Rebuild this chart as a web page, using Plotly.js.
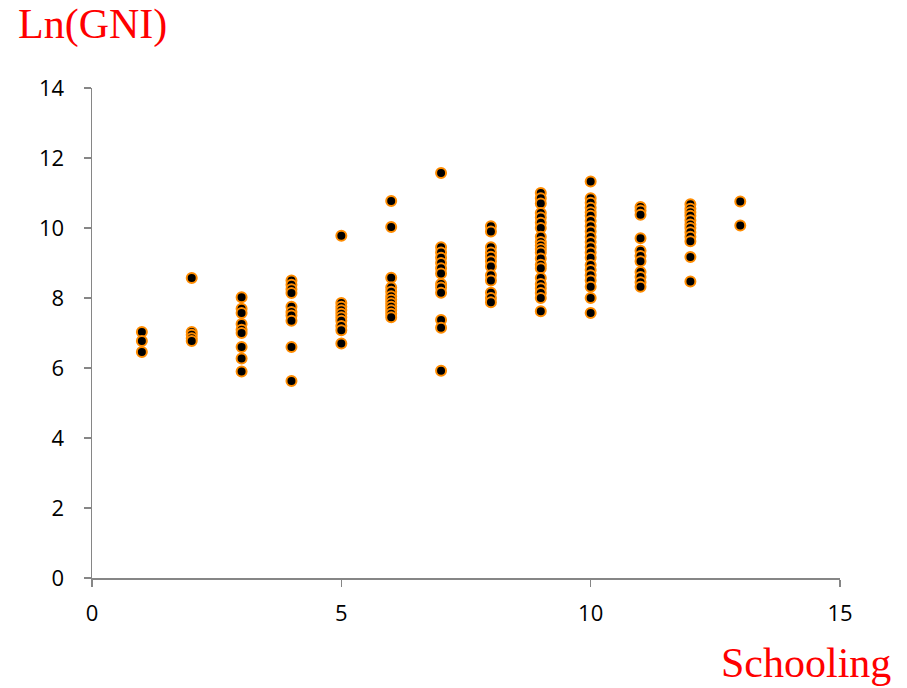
<!DOCTYPE html>
<html><head><meta charset="utf-8">
<script src="https://cdn.plot.ly/plotly-3.0.1.min.js"></script>
<style>body{margin:0;background:#fff}#c{width:907px;height:688px}</style>
</head><body><div id="c"></div>
<script>
const schooling = [1,2,3,4,5,6,7,8,9,10,11,12,13];
const lnGNI = [
  [7.03, 6.77, 6.46],
  [8.57, 7.03, 6.95, 6.85, 6.77],
  [8.02, 7.69, 7.57, 7.26, 7.09, 7.0, 6.6, 6.27, 5.9],
  [8.5, 8.38, 8.25, 8.14, 7.75, 7.6, 7.5, 7.35, 6.6, 5.63],
  [9.78, 7.86, 7.75, 7.65, 7.55, 7.45, 7.35, 7.2, 7.08, 6.7],
  [10.77, 10.03, 8.58, 8.3, 8.18, 8.05, 7.95, 7.85, 7.75, 7.65, 7.55, 7.45],
  [11.57, 9.45, 9.3, 9.15, 9.0, 8.85, 8.7, 8.4, 8.3, 8.15, 7.37, 7.15, 5.92],
  [10.05, 9.9, 9.45, 9.3, 9.18, 9.05, 8.9, 8.65, 8.5, 8.15, 8.0, 7.88],
  [11.0, 10.85, 10.7, 10.43, 10.3, 10.15, 10.0, 9.75, 9.6, 9.5, 9.4, 9.3, 9.13, 8.95, 8.85, 8.57, 8.4, 8.28, 8.14, 8.0, 7.62],
  [11.33, 10.85, 10.72, 10.58, 10.45, 10.35, 10.2, 10.05, 9.9, 9.74, 9.6, 9.45, 9.3, 9.15, 8.94, 8.8, 8.65, 8.5, 8.32, 8.0, 7.57],
  [10.6, 10.5, 10.38, 9.71, 9.35, 9.2, 9.05, 8.74, 8.6, 8.45, 8.32],
  [10.68, 10.55, 10.45, 10.35, 10.22, 10.1, 10.0, 9.88, 9.75, 9.62, 9.17, 8.47],
  [10.76, 10.07]
];
const xTicks = [0, 5, 10, 15];
const yTicks = [0, 2, 4, 6, 8, 10, 12, 14];

const xs = [], ys = [];
schooling.forEach((s, i) => lnGNI[i].forEach(v => { xs.push(s); ys.push(v); }));

const trace = {
  x: xs, y: ys, type: 'scatter', mode: 'markers',
  marker: {color: '#000', size: 10, line: {color: '#FF8C00', width: 2}},
  hoverinfo: 'none'
};
const axisCommon = {
  showgrid: false, zeroline: false, showline: true, linecolor: '#868686', linewidth: 1.5,
  ticks: 'outside', ticklen: 7, tickcolor: '#868686', tickwidth: 1.5,
  tickfont: {family: 'Open Sans, DejaVu Sans, sans-serif', size: 22, color: '#000'}
};
const layout = {
  width: 907, height: 688,
  margin: {l: 92, r: 67, t: 88, b: 110},
  paper_bgcolor: '#fff', plot_bgcolor: '#fff',
  showlegend: false,
  xaxis: Object.assign({}, axisCommon, {range: [0, 15], tickvals: xTicks, ticktext: xTicks.map(String), ticklabelstandoff: 8}),
  yaxis: Object.assign({}, axisCommon, {range: [0, 14], tickvals: yTicks, ticktext: yTicks.map(String), ticklabelstandoff: 15}),
  annotations: [
    {text: 'Ln(GNI)', xref: 'paper', yref: 'paper', x: -0.101, y: 1.1286, xanchor: 'left', yanchor: 'middle', showarrow: false,
     font: {family: 'Liberation Serif, Times New Roman, serif', size: 42, color: '#FF0000'}},
    {text: 'Schooling', xref: 'paper', yref: 'paper', x: 1.0709, y: -0.1735, xanchor: 'right', yanchor: 'middle', showarrow: false,
     font: {family: 'Liberation Serif, Times New Roman, serif', size: 42, color: '#FF0000'}}
  ]
};
Plotly.newPlot('c', [trace], layout, {displayModeBar: false, staticPlot: true});
</script></body></html>
